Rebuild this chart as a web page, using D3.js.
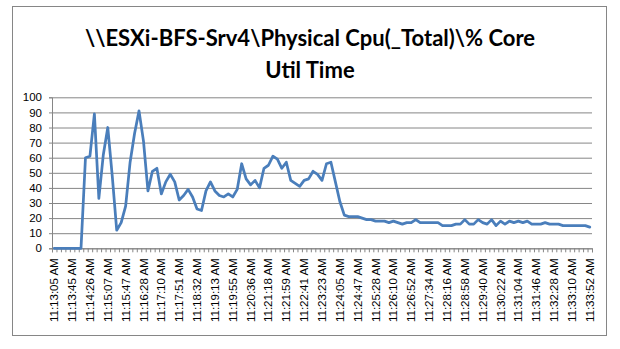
<!DOCTYPE html>
<html>
<head>
<meta charset="utf-8">
<script src="https://cdn.jsdelivr.net/npm/d3@7"></script>
<style>
  body { margin: 0; background: #fff; }
  svg { display: block; }
</style>
</head>
<body>
<div id="chart"></div>
<script>
// one label every 4th sample
const tickLabels = [
    "11:13:05 AM", "11:13:45 AM", "11:14:26 AM", "11:15:07 AM", "11:15:47 AM",
    "11:16:28 AM", "11:17:10 AM", "11:17:51 AM", "11:18:32 AM", "11:19:13 AM",
    "11:19:55 AM", "11:20:36 AM", "11:21:18 AM", "11:21:59 AM", "11:22:41 AM",
    "11:23:23 AM", "11:24:05 AM", "11:24:47 AM", "11:25:28 AM", "11:26:10 AM",
    "11:26:52 AM", "11:27:34 AM", "11:28:16 AM", "11:28:58 AM", "11:29:40 AM",
    "11:30:22 AM", "11:31:04 AM", "11:31:46 AM", "11:32:28 AM", "11:33:10 AM",
    "11:33:52 AM"
];
const labelEvery = 4;

// % Core Util Time, one value per sample
const coreUtil = [
    0, 0, 0, 0, 0, 0, 0, 60, 61, 89,
    33, 62, 80, 48, 12, 17, 28, 57, 76, 91,
    71, 38, 51, 53, 36, 44, 49, 44, 32, 35,
    39, 34, 26, 25, 38, 44, 38, 35, 34, 36,
    34, 39, 56, 46, 42, 45, 40, 53, 55, 61,
    59, 53, 57, 45, 43, 41, 45, 46, 51, 49,
    45, 56, 57, 44, 31, 22, 21, 21, 21, 20,
    19, 19, 18, 18, 18, 17, 18, 17, 16, 17,
    17, 19, 17, 17, 17, 17, 17, 15, 15, 15,
    16, 16, 19, 16, 16, 19, 17, 16, 19, 15,
    18, 16, 18, 17, 18, 17, 18, 16, 16, 16,
    17, 16, 16, 16, 15, 15, 15, 15, 15, 15,
    14
];
const yTicks = [0, 10, 20, 30, 40, 50, 60, 70, 80, 90, 100];
const titleLines = ["\\\\ESXi-BFS-Srv4\\Physical Cpu(_Total)\\% Core", "Util Time"];

const W = 620, H = 349;
const plot = { left: 52, right: 592, top: 97.3, bottom: 248.3 };
const axisGray = "#868686";
const labelFont = "'Liberation Sans', Arial, sans-serif";

const svg = d3.select("#chart").append("svg")
    .attr("width", W)
    .attr("height", H);

// chart frame
svg.append("rect")
    .attr("x", 12.5).attr("y", 6.5)
    .attr("width", 594).attr("height", 329)
    .attr("fill", "#fff")
    .attr("stroke", axisGray);

// title
svg.append("g").selectAll("text")
    .data(titleLines)
    .join("text")
    .attr("x", 310)
    .attr("y", (d, i) => 46 + i * 32)
    .attr("text-anchor", "middle")
    .attr("font-family", "Lato, 'Open Sans', sans-serif")
    .attr("font-weight", "bold")
    .attr("font-size", 22)
    .attr("fill", "#000")
    .text(d => d);

const idx = d3.range(coreUtil.length);
const x = d3.scaleBand().domain(idx).range([plot.left, plot.right]).padding(0);
const xEdge = d3.scaleLinear().domain([0, coreUtil.length]).range([plot.left, plot.right]);
const y = d3.scaleLinear().domain([0, 100]).range([plot.bottom, plot.top]);
const cx = i => x(i) + x.bandwidth() / 2;

// gridlines
svg.append("g")
    .attr("transform", `translate(${plot.left},0)`)
    .call(d3.axisLeft(y).tickValues(yTicks).tickSize(-(plot.right - plot.left)).tickFormat(""))
    .call(g => g.select(".domain").remove())
    .call(g => g.selectAll("line").attr("stroke", axisGray).attr("stroke-width", 1));

// y axis
svg.append("g")
    .attr("transform", `translate(${plot.left},0)`)
    .call(d3.axisLeft(y).tickValues(yTicks).tickSize(3).tickPadding(7))
    .call(g => g.select(".domain").attr("stroke", axisGray))
    .call(g => g.selectAll("line").attr("stroke", axisGray))
    .call(g => g.selectAll("text")
        .attr("font-family", labelFont)
        .attr("font-size", 11.5)
        .attr("fill", "#000"));

// x axis: tick marks at category boundaries
svg.append("g")
    .attr("transform", `translate(0,${plot.bottom})`)
    .call(d3.axisBottom(xEdge).tickValues(d3.range(coreUtil.length + 1)).tickSize(4).tickFormat(""))
    .call(g => g.select(".domain").attr("stroke", axisGray))
    .call(g => g.selectAll("line").attr("stroke", axisGray));

// x axis labels, rotated
svg.append("g")
    .attr("transform", `translate(0,${plot.bottom})`)
    .call(d3.axisBottom(x)
        .tickValues(idx.filter(i => i % labelEvery === 0))
        .tickSize(0)
        .tickFormat(i => tickLabels[i / labelEvery]))
    .call(g => g.select(".domain").remove())
    .call(g => g.selectAll("text")
        .attr("font-family", labelFont)
        .attr("font-size", 11.5)
        .attr("fill", "#000")
        .attr("text-anchor", "end")
        .attr("transform", "rotate(-90)")
        .attr("x", -10)
        .attr("y", 0)
        .attr("dy", "0.35em"));

// the series
const line = d3.line()
    .x((d, i) => cx(i))
    .y(d => y(d));

svg.append("path")
    .datum(coreUtil)
    .attr("d", line)
    .attr("fill", "none")
    .attr("stroke", "#4a7ebb")
    .attr("stroke-width", 2.75)
    .attr("stroke-linejoin", "round")
    .attr("stroke-linecap", "round");
</script>
</body>
</html>
